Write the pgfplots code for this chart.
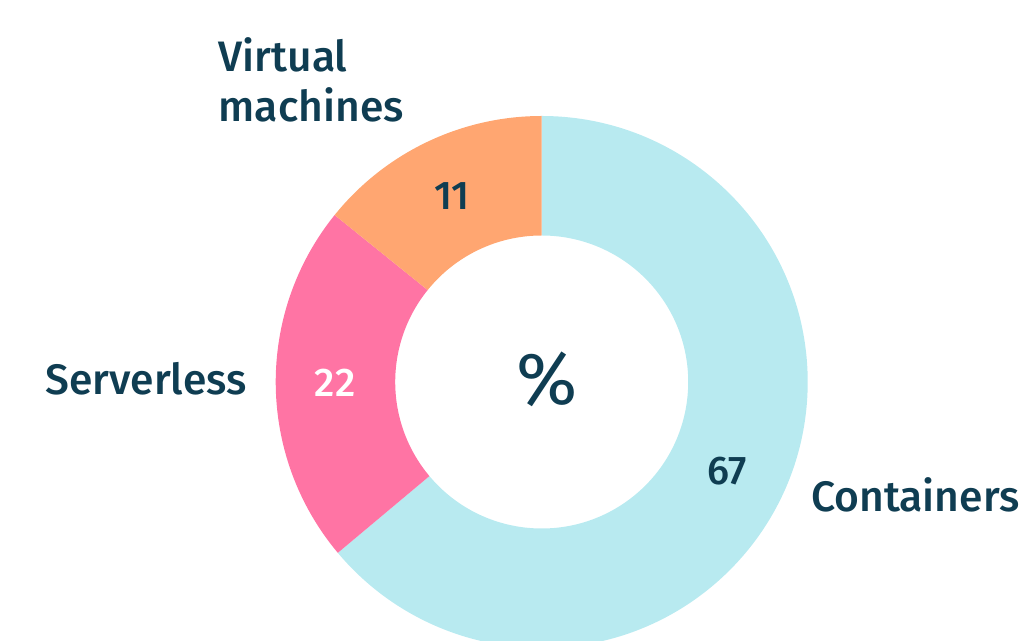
\documentclass[border=0pt]{standalone}
\usepackage{pgfplots}
\pgfplotsset{compat=1.18}
\usepackage{pgfplotstable}
\usepackage{fontspec}
\setmainfont{Fira Sans}[BoldFont={Fira Sans Medium}]
\definecolor{cblue}{HTML}{B8EAF0}
\definecolor{cpink}{HTML}{FF74A4}
\definecolor{corange}{HTML}{FFA671}
\definecolor{ctext}{HTML}{0F3D52}
% shown value / drawn share of the circle (percent)
\pgfplotstableread{
label        value share
Containers   67    63.9
Serverless   22    21.9
Virtual      11    14.2
}\donutdata
\pgfplotstablegetelem{0}{share}\of\donutdata \let\sC\pgfplotsretval
\pgfplotstablegetelem{1}{share}\of\donutdata \let\sS\pgfplotsretval
\pgfplotstablegetelem{2}{share}\of\donutdata \let\sV\pgfplotsretval
\pgfmathsetmacro\aC{90-3.6*\sC}
\pgfmathsetmacro\aS{\aC-3.6*\sS}
\pgfmathsetmacro\aV{\aS-3.6*\sV}
\def\Ro{266}\def\Ri{146.5}
\newcommand\ring[3]{% start angle, end angle, colour
  \fill[#3] (axis cs:{\Ro*cos(#1)},{\Ro*sin(#1)}) arc[start angle=#1,end angle=#2,radius=\Ro*0.5pt]
    -- (axis cs:{\Ri*cos(#2)},{\Ri*sin(#2)}) arc[start angle=#2,end angle=#1,radius=\Ri*0.5pt] -- cycle;}
\begin{document}
\begin{tikzpicture}
\begin{axis}[name=ax, x=0.5pt, y=0.5pt, hide axis,
  xmin=-541.7, xmax=484.3, ymin=-259, ymax=382, clip=false]
\ring{90}{\aC}{cblue}
\ring{\aC}{\aS}{cpink}
\ring{\aS}{\aV}{corange}
\begin{scope}[every node/.style={text=ctext, inner sep=0pt}]
\node[anchor=base west, font=\fontsize{21.3}{26}\selectfont\bfseries] at (axis cs:-323.4,310.3) {Virtual};
\node[anchor=base west, font=\fontsize{21.3}{26}\selectfont\bfseries] at (axis cs:-323.4,260.3) {machines};
\node[anchor=base west, font=\fontsize{21.3}{26}\selectfont\bfseries] at (axis cs:-496.7,-13) {Serverless};
\node[anchor=base west, font=\fontsize{21.3}{26}\selectfont\bfseries] at (axis cs:269,-129.7) {Containers};
\node[anchor=base, font=\fontsize{20}{24}\selectfont\bfseries] at (axis cs:-90,172) {11};
\node[anchor=base, font=\fontsize{20}{24}\selectfont\bfseries, text=white] at (axis cs:-206.7,-14.7) {22};
\node[anchor=base, font=\fontsize{20}{24}\selectfont\bfseries] at (axis cs:185,-103) {67};
\node[anchor=base, font=\fontsize{37}{44}\selectfont] at (axis cs:5.8,-23) {\%};
\end{scope}
\end{axis}
\pgfresetboundingbox
\useasboundingbox (ax.south west) rectangle (ax.north east);
\end{tikzpicture}
\end{document}
